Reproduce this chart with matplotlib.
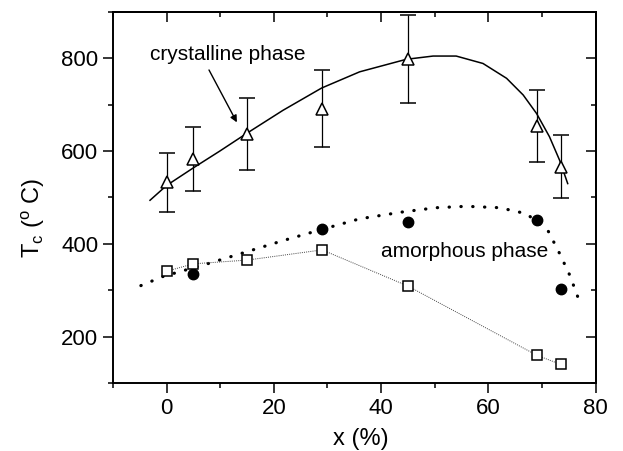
import matplotlib
matplotlib.use("Agg")
import matplotlib.pyplot as plt
from matplotlib.ticker import MultipleLocator

plt.rcParams['font.family'] = ['Liberation Sans', 'DejaVu Sans']
plt.rcParams['mathtext.fontset'] = 'custom'
plt.rcParams['mathtext.rm'] = 'Liberation Sans'
plt.rcParams['mathtext.it'] = 'Liberation Sans:italic'

# crystalline phase (triangles with error bars)
x_cryst = [0, 5, 15, 29, 45, 69, 73.5]
t_cryst = [533, 584, 637, 691, 798, 654, 566]
err_cryst = [64, 69, 77, 83, 95, 78, 68]

# amorphous phase (filled circles)
x_amor = [5, 29, 45, 69, 73.5]
t_amor = [336, 432, 448, 452, 303]

# open squares joined by thin dotted line
x_sq = [0, 5, 15, 29, 45, 69, 73.5]
t_sq = [341, 357, 365, 387, 309, 160, 140]

# fitted solid curve (crystalline)
x_fit_c = [-3.1, 0, 5, 9.9, 14.9, 21.7, 28.9, 36, 44.7, 49.7, 54, 59, 63.4, 66.5, 69, 71.4, 73.3, 74.8]
t_fit_c = [494, 526, 564, 600, 638, 688, 736, 771, 798, 805, 805, 789, 757, 721, 681, 631, 580, 530]

# fitted dotted curve (amorphous)
x_fit_a = [-4.8, -0.6, 7.6, 15.8, 21.7, 28.9, 36, 44.1, 50.3, 55.9, 62.1, 67.1, 71.1, 73.3, 75.2, 76.7]
t_fit_a = [310, 330, 357, 386, 407, 431, 454, 469, 478, 481, 478, 465, 429, 379, 332, 285]

fig = plt.figure(figsize=(6.23, 4.51), dpi=100)
ax = fig.add_axes([0.1814, 0.1508, 0.7746, 0.8226])

ax.plot(x_fit_c, t_fit_c, '-', color='black', lw=1.1)
ax.plot(x_fit_a, t_fit_a, linestyle=(0, (0.1, 3.6)), color='black', lw=2.3,
        dash_capstyle='round', solid_capstyle='round')
ax.plot(x_sq, t_sq, linestyle=(0, (1, 1.2)), color='#444444', lw=0.7)
ax.errorbar(x_cryst, t_cryst, yerr=err_cryst, fmt='^', ms=8, mfc='white', mec='black',
            mew=1.1, ecolor='black', elinewidth=0.9, capsize=5.5, capthick=0.9, zorder=4)
ax.plot(x_amor, t_amor, 'o', ms=7.5, color='black', zorder=5)
ax.plot(x_sq, t_sq, 's', ms=6.5, mfc='white', mec='black', mew=1.1, zorder=5)

ax.set_xlim(-10, 80)
ax.set_ylim(100, 900)
ax.xaxis.set_major_locator(MultipleLocator(20))
ax.xaxis.set_minor_locator(MultipleLocator(10))
ax.yaxis.set_minor_locator(MultipleLocator(100))
ax.set_yticks([200, 400, 600, 800])
ax.tick_params(which='both', direction='out', labelsize=16, width=1.1,
               top=False, right=False)
ax.tick_params(which='major', length=7)
ax.tick_params(which='minor', length=3.5)
for s in ax.spines.values():
    s.set_linewidth(1.4)

secx = ax.secondary_xaxis('top')
secx.xaxis.set_major_locator(MultipleLocator(20))
secx.xaxis.set_minor_locator(MultipleLocator(10))
secx.tick_params(which='both', direction='in', labeltop=False, width=1.1)
secx.tick_params(which='major', length=7)
secx.tick_params(which='minor', length=3.5)
secx.spines['top'].set_linewidth(1.4)

secy = ax.secondary_yaxis('right')
secy.set_yticks([200, 400, 600, 800])
secy.yaxis.set_minor_locator(MultipleLocator(100))
secy.tick_params(which='both', direction='in', labelright=False, width=1.1)
secy.tick_params(which='major', length=7)
secy.tick_params(which='minor', length=3.5)
secy.spines['right'].set_linewidth(1.4)

ax.set_xlabel('x (%)', fontsize=17, labelpad=7)
ax.set_ylabel(r'T$_{\rm c}$ ($^{\rm o}$ C)', fontsize=17, labelpad=10)
ax.xaxis.label.set_x(0.513)
ax.yaxis.label.set_y(0.445)

ax.text(-3.1, 796, 'crystalline phase', fontsize=15, ha='left', va='baseline')
ax.annotate('', xy=(13.1, 662), xytext=(7.9, 775),
            arrowprops=dict(arrowstyle='-|>', color='black', lw=1.0,
                            mutation_scale=10, shrinkA=0, shrinkB=0))
ax.text(40.0, 371, 'amorphous phase', fontsize=15, ha='left', va='baseline')

fig.savefig('out.png', dpi=100)
